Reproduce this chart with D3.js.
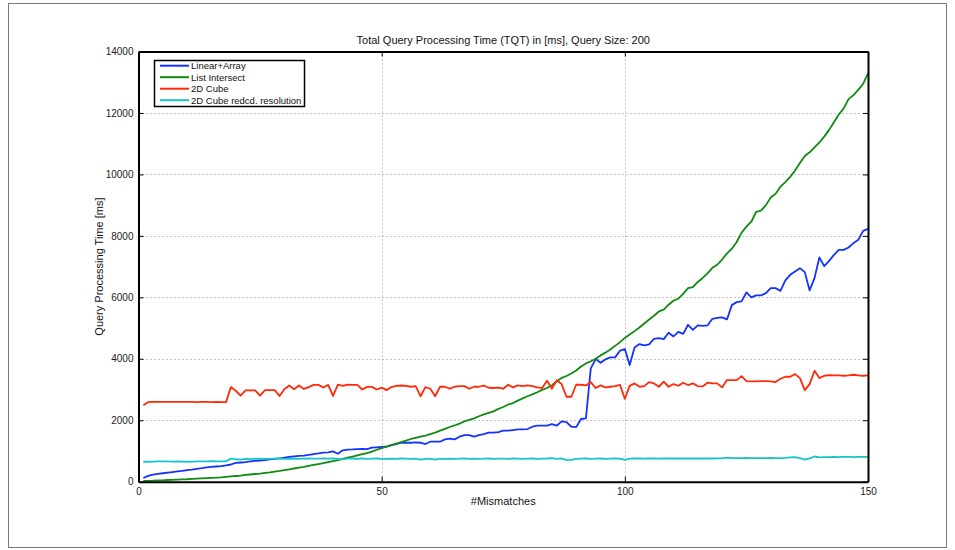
<!DOCTYPE html>
<html>
<head>
<meta charset="utf-8">
<script src="https://cdn.jsdelivr.net/npm/d3@7/dist/d3.min.js"></script>
<style>
  html, body { margin: 0; padding: 0; background: #fff; }
  svg { display: block; font-family: "Liberation Sans", Arial, Helvetica, sans-serif; }
</style>
</head>
<body>
<svg id="chart" width="955" height="550"></svg>
<script>
// Number of mismatches on the x axis (1 … 150)
const mismatches = d3.range(1, 151);

const seriesNames = ["Linear+Array", "List Intersect", "2D Cube", "2D Cube redcd. resolution"];
const seriesColors = ["#1433ff", "#108a10", "#ff2a0a", "#17c4c8"];

// Query processing time in ms, one value per mismatch count
const linearArray = [
  120,190,230,255,275,295,315,335,355,380,
  395,420,440,465,480,495,510,530,560,610,
  625,640,660,675,690,705,725,745,760,780,
  805,825,840,850,870,900,920,945,955,985,
  910,1020,1045,1050,1060,1070,1060,1110,1120,1130,
  1138,1192,1225,1268,1268,1268,1280,1268,1225,1301,
  1301,1301,1378,1399,1378,1464,1518,1518,1464,1518,
  1551,1594,1594,1616,1659,1659,1681,1703,1703,1714,
  1789,1822,1822,1822,1876,1822,1963,1941,1789,1775,
  2040,2063,3688,3990,3871,3980,4046,4046,4263,4315,
  3795,4370,4478,4435,4468,4651,4673,4640,4846,4728,
  4878,4813,5106,4943,5090,5073,5084,5301,5333,5346,
  5281,5746,5844,5866,6158,5996,6061,6061,6137,6299,
  6299,6211,6549,6732,6842,6950,6820,6224,6624,7297,
  7015,7187,7382,7545,7545,7622,7762,7870,8163,8228
];

const listIntersect = [
  30,30,33,40,45,55,60,70,75,80,
  90,98,105,115,125,130,140,155,170,185,
  200,220,235,250,265,285,305,330,350,375,
  400,430,455,480,515,545,575,605,640,670,
  700,740,780,820,860,900,930,980,1040,1090,
  1140,1190,1240,1290,1340,1390,1430,1465,1500,1550,
  1600,1660,1720,1780,1830,1890,1960,2010,2060,2130,
  2190,2240,2290,2370,2430,2510,2560,2640,2710,2780,
  2840,2910,2990,3050,3140,3260,3380,3440,3520,3620,
  3750,3850,3920,4000,4110,4200,4300,4420,4540,4680,
  4790,4900,5020,5150,5280,5400,5540,5600,5760,5890,
  5960,6110,6300,6330,6500,6630,6780,6960,7060,7230,
  7430,7580,7800,8100,8300,8460,8780,8820,9000,9250,
  9370,9600,9750,9920,10130,10370,10600,10720,10880,11040,
  11230,11450,11700,11950,12150,12450,12580,12750,12950,13290
];

const cube2d = [
  2490,2590,2600,2600,2595,2600,2600,2600,2595,2600,
  2600,2590,2600,2600,2590,2600,2590,2590,3080,2960,
  2800,2970,2970,2970,2800,2980,2980,2980,2790,3010,
  3130,3010,3130,3020,3080,3150,3150,3065,3150,2790,
  3160,3120,3160,3150,3150,3000,3085,3085,3000,3060,
  2980,3080,3120,3130,3120,3090,3110,2780,3080,3025,
  2780,3090,3090,3030,3090,3110,3110,3025,3090,3090,
  3130,3058,3050,3060,3025,3155,3069,3134,3112,3134,
  3112,3069,3047,3286,3025,3300,3177,2764,2764,3155,
  3155,3134,3242,3047,3134,3069,3090,3112,3150,2700,
  3120,3199,3090,3112,3242,3199,3090,3253,3090,3177,
  3123,3221,3145,3199,3112,3101,3221,3199,3199,3069,
  3307,3307,3307,3437,3275,3264,3264,3275,3275,3264,
  3242,3350,3415,3415,3502,3372,2982,3177,3610,3372,
  3448,3470,3459,3459,3448,3459,3480,3459,3448,3459
];

const cube2dReduced = [
  650,650,655,660,660,660,655,660,655,650,
  655,660,660,660,665,660,660,665,750,730,
  720,740,735,745,750,740,745,750,755,740,
  740,755,745,750,755,750,750,755,750,760,
  740,730,750,755,745,760,745,750,755,745,
  740,750,745,755,750,745,750,720,745,745,
  720,750,745,750,745,750,755,745,750,745,
  750,755,745,750,750,745,755,750,745,750,
  755,745,750,755,770,740,760,700,710,745,
  750,755,745,750,755,745,750,755,750,710,
  750,755,755,750,760,755,750,755,760,755,
  755,760,755,755,760,755,760,755,760,760,
  780,770,765,770,775,770,765,770,770,775,
  770,770,775,790,800,770,720,760,820,790,
  800,800,805,800,805,805,800,805,805,810
];

const seriesValues = [linearArray, listIntersect, cube2d, cube2dReduced];

const xTicks = [0, 50, 100, 150];
const yTicks = [0, 2000, 4000, 6000, 8000, 10000, 12000, 14000];

const titleText = "Total Query Processing Time (TQT) in [ms], Query Size: 200";
const xLabel = "#Mismatches";
const yLabel = "Query Processing Time [ms]";

// ---- layout ----
const svg = d3.select("#chart");
const plot = { left: 138.5, right: 868, top: 51.5, bottom: 481.7 };

const x = d3.scaleLinear().domain([0, 150]).range([plot.left, plot.right]);
const y = d3.scaleLinear().domain([0, 14000]).range([plot.bottom, plot.top]);

// outer figure frame
svg.append("rect")
  .attr("x", 8.5).attr("y", 3.5)
  .attr("width", 938).attr("height", 544)
  .attr("fill", "none").attr("stroke", "#7a7a7a").attr("stroke-width", 1);

// dotted grid
const grid = svg.append("g").attr("class", "grid")
  .attr("stroke", "#8a8a8a").attr("stroke-width", 1).attr("stroke-dasharray", "1,3");
grid.selectAll("line.gx").data(xTicks.slice(1, -1)).join("line")
  .attr("class", "gx")
  .attr("x1", d => Math.round(x(d)) + 0.5).attr("x2", d => Math.round(x(d)) + 0.5)
  .attr("y1", plot.top).attr("y2", plot.bottom);
grid.selectAll("line.gy").data(yTicks.slice(1, -1)).join("line")
  .attr("class", "gy")
  .attr("y1", d => Math.round(y(d)) + 0.5).attr("y2", d => Math.round(y(d)) + 0.5)
  .attr("x1", plot.left).attr("x2", plot.right);

// series lines
const line = d3.line()
  .x((d, i) => x(mismatches[i]))
  .y(d => y(d));

const lines = svg.append("g").attr("class", "series");
seriesValues.forEach((vals, k) => {
  lines.append("path")
    .datum(vals)
    .attr("fill", "none")
    .attr("stroke", seriesColors[k])
    .attr("stroke-width", 1.8)
    .attr("stroke-linejoin", "round")
    .attr("d", line);
});

// axes: ticks point inward on all four sides
function styleAxis(g) {
  g.selectAll(".domain").attr("stroke", "#000").attr("stroke-width", 2);
  g.selectAll(".tick line").attr("stroke", "#000").attr("stroke-width", 1);
  g.selectAll(".tick text").attr("fill", "#222").attr("font-size", "10px")
    .attr("font-family", "'Liberation Sans', Arial, sans-serif");
}

const xAxis = d3.axisBottom(x).tickValues(xTicks).tickFormat(d3.format("d"))
  .tickSizeInner(-5).tickSizeOuter(0).tickPadding(6);
svg.append("g").attr("transform", `translate(0,${plot.bottom})`).call(xAxis).call(styleAxis);

const xAxisTop = d3.axisTop(x).tickValues(xTicks).tickFormat("")
  .tickSizeInner(-5).tickSizeOuter(0);
svg.append("g").attr("transform", `translate(0,${plot.top})`).call(xAxisTop).call(styleAxis);

const yAxis = d3.axisLeft(y).tickValues(yTicks).tickFormat(d3.format("d"))
  .tickSizeInner(-5).tickSizeOuter(0).tickPadding(5);
svg.append("g").attr("transform", `translate(${plot.left},0)`).call(yAxis).call(styleAxis);

const yAxisRight = d3.axisRight(y).tickValues(yTicks).tickFormat("")
  .tickSizeInner(-5).tickSizeOuter(0);
svg.append("g").attr("transform", `translate(${plot.right},0)`).call(yAxisRight).call(styleAxis);

// titles
svg.append("text")
  .attr("x", (plot.left + plot.right) / 2).attr("y", 44)
  .attr("text-anchor", "middle").attr("font-size", "11px").attr("fill", "#111")
  .text(titleText);

svg.append("text")
  .attr("x", (plot.left + plot.right) / 2).attr("y", 505)
  .attr("text-anchor", "middle").attr("font-size", "11px").attr("fill", "#111")
  .text(xLabel);

svg.append("text")
  .attr("transform", `translate(103,${(plot.top + plot.bottom) / 2}) rotate(-90)`)
  .attr("text-anchor", "middle").attr("font-size", "11px").attr("fill", "#111")
  .text(yLabel);

// legend
const legend = svg.append("g").attr("class", "legend");
legend.append("rect")
  .attr("x", 154.5).attr("y", 60.5).attr("width", 150).attr("height", 46)
  .attr("fill", "#fff").attr("stroke", "#000").attr("stroke-width", 1.5);
const rowY = [65.7, 77.2, 88.7, 100.2];
seriesNames.forEach((name, k) => {
  legend.append("line")
    .attr("x1", 160).attr("x2", 189)
    .attr("y1", rowY[k]).attr("y2", rowY[k])
    .attr("stroke", seriesColors[k]).attr("stroke-width", 2);
  legend.append("text")
    .attr("x", 191).attr("y", rowY[k]).attr("dy", "0.35em")
    .attr("font-size", "9.5px").attr("fill", "#111")
    .text(name);
});
</script>
</body>
</html>
